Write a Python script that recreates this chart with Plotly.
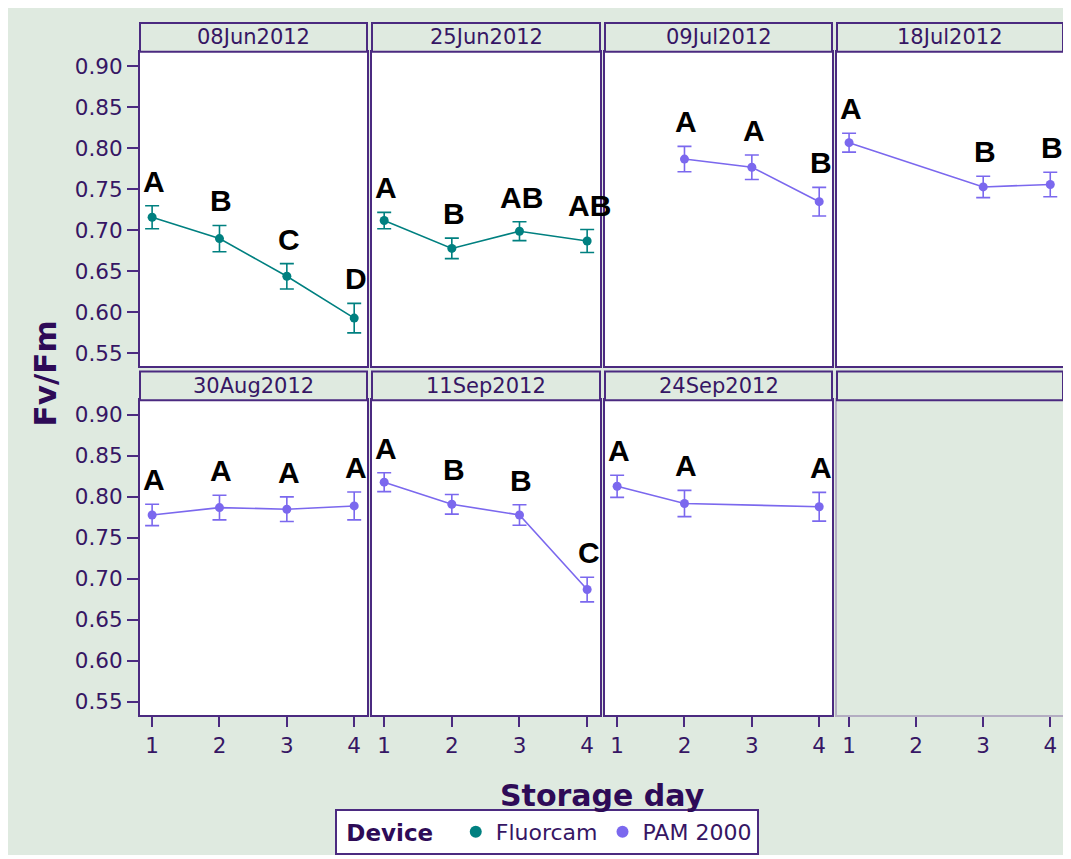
import plotly.graph_objects as go

# ---------------- data ----------------
dates = ["08Jun2012", "25Jun2012", "09Jul2012", "18Jul2012",
         "30Aug2012", "11Sep2012", "24Sep2012"]
devices = ["Fluorcam", "Fluorcam", "PAM 2000", "PAM 2000",
           "PAM 2000", "PAM 2000", "PAM 2000"]
days = [[1, 2, 3, 4], [1, 2, 3, 4], [2, 3, 4], [1, 3, 4],
        [1, 2, 3, 4], [1, 2, 3, 4], [1, 2, 4]]
fvfm = [[0.716, 0.690, 0.644, 0.593],
        [0.712, 0.678, 0.699, 0.687],
        [0.787, 0.777, 0.735],
        [0.807, 0.753, 0.756],
        [0.778, 0.787, 0.785, 0.789],
        [0.818, 0.791, 0.778, 0.687],
        [0.813, 0.792, 0.788]]
err = [[0.014, 0.016, 0.0155, 0.018],
       [0.010, 0.0125, 0.0115, 0.014],
       [0.0155, 0.015, 0.0175],
       [0.0115, 0.013, 0.015],
       [0.013, 0.015, 0.015, 0.017],
       [0.0115, 0.012, 0.0125, 0.015],
       [0.0135, 0.016, 0.0175]]
letters = [["A", "B", "C", "D"],
           ["A", "B", "AB", "AB"],
           ["A", "A", "B"],
           ["A", "B", "B"],
           ["A", "A", "A", "A"],
           ["A", "B", "B", "C"],
           ["A", "A", "A"]]
x_ticks = [1, 2, 3, 4]
y_ticks = [0.55, 0.60, 0.65, 0.70, 0.75, 0.80, 0.85, 0.90]
device_names = ["Fluorcam", "PAM 2000"]

# ---------------- style ----------------
# the page body has an 8px margin; the figure sits at (8, 8)
OX, OY = 8, 8
W, H = 1057, 847
BG = "#dfeae0"
AXC = "#4b2a80"
TXT = "#361664"
TITLE = "#2e0b57"
COLORS = {"Fluorcam": "#008080", "PAM 2000": "#7b68ee"}
FONT = "DejaVu Sans"
NB = "\u00a0"


def px(x):
    return (x - OX) / W


def py(y):
    return 1 - (y - OY) / H


col_x = [(140, 367), (372, 600), (605, 832), (837, 1063)]
row_y = [(52, 369), (403, 720)]
strip_h = 29

fig = go.Figure()

# data traces
for i, d in enumerate(dates):
    n = i + 1
    ax = "" if n == 1 else str(n)
    c = COLORS[devices[i]]
    fig.add_trace(go.Scatter(
        x=days[i], y=fvfm[i], mode="lines+markers",
        line=dict(color=c, width=1.6),
        marker=dict(color=c, size=9),
        error_y=dict(type="data", array=err[i], color=c, thickness=1.6, width=7),
        showlegend=False, xaxis=f"x{ax}", yaxis=f"y{ax}", hoverinfo="skip"))

# placeholder so the empty 8th panel gets its axes
fig.add_trace(go.Scatter(x=[None], y=[None], mode="markers", showlegend=False,
                         xaxis="x8", yaxis="y8", hoverinfo="skip"))

# legend traces (markers only)
for name in device_names:
    fig.add_trace(go.Scatter(x=[None], y=[None], mode="markers", name=name,
                             marker=dict(color=COLORS[name], size=12),
                             xaxis="x", yaxis="y", showlegend=True))

layout = dict(
    width=W, height=H,
    margin=dict(l=0, r=0, t=0, b=0),
    paper_bgcolor=BG, plot_bgcolor="white",
    font=dict(family=FONT, color=TXT, size=21),
    legend=dict(
        orientation="h", x=px(335), xanchor="left", y=py(815), yanchor="top",
        bgcolor="white", bordercolor=AXC, borderwidth=2,
        font=dict(family=FONT, size=22, color=TXT),
        title=dict(text=NB + "<b>Device</b>" + NB * 2,
                   font=dict(family=FONT, size=23, color=TITLE)),
        itemwidth=30, tracegroupgap=0,
    ),
)

shapes = []
annotations = []

for k in range(8):
    n = k + 1
    r, c = divmod(k, 4)
    x0, x1 = col_x[c]
    y0, y1 = row_y[r]
    empty = k == 7
    lc = "#b3adc2" if empty else AXC
    xa = dict(domain=[px(x0), px(x1)], range=[0.82, 4.19],
              showgrid=False, zeroline=False, showline=True, mirror=True,
              linecolor=lc, linewidth=2, tickvals=x_ticks,
              anchor=f"y{n}" if n > 1 else "y", fixedrange=True)
    if r == 1:
        xa.update(ticks="outside", ticklen=10, tickwidth=2, tickcolor=AXC,
                  showticklabels=True, tickfont=dict(size=21.5, color=TXT))
    else:
        xa.update(ticks="", showticklabels=False)
    ya = dict(domain=[py(y1), py(y0)], range=[0.534, 0.918],
              showgrid=False, zeroline=False, showline=True, mirror=True,
              linecolor=lc, linewidth=2, tickvals=y_ticks, tickformat=".2f",
              anchor=f"x{n}" if n > 1 else "x", fixedrange=True)
    if c == 0:
        ya.update(ticks="outside", ticklen=11, tickwidth=2, tickcolor=AXC,
                  showticklabels=True, tickfont=dict(size=21.5, color=TXT))
    else:
        ya.update(ticks="", showticklabels=False)
    layout["xaxis" if n == 1 else f"xaxis{n}"] = xa
    layout["yaxis" if n == 1 else f"yaxis{n}"] = ya

    # strip header
    shapes.append(dict(type="rect", xref="paper", yref="paper",
                       x0=px(x0), x1=px(x1), y0=py(y0), y1=py(y0 - strip_h),
                       fillcolor=BG, line=dict(color=AXC, width=2), layer="above"))
    if k < len(dates):
        annotations.append(dict(text=dates[k], xref="paper", yref="paper",
                                x=px((x0 + x1) / 2), y=py(y0 - strip_h / 2),
                                xanchor="center", yanchor="middle", showarrow=False,
                                font=dict(family=FONT, size=21, color=TXT)))
    if empty:
        shapes.append(dict(type="rect", xref="x8 domain", yref="y8 domain",
                           x0=0, x1=1, y0=0, y1=1, fillcolor=BG,
                           line=dict(width=0), layer="below"))

# significance letters
for i in range(len(dates)):
    n = i + 1
    ax = "" if n == 1 else str(n)
    for dx, m, e, lab in zip(days[i], fvfm[i], err[i], letters[i]):
        annotations.append(dict(text=f"<b>{lab}</b>", xref=f"x{ax}", yref=f"y{ax}",
                                x=dx, y=m + e, xanchor="center", yanchor="bottom",
                                xshift=2, yshift=6, showarrow=False,
                                font=dict(family="Liberation Sans", size=30, color="black")))

# axis titles
annotations.append(dict(text="<b>Fv/Fm</b>", xref="paper", yref="paper",
                        x=px(45), y=py(376), textangle=-90, showarrow=False,
                        xanchor="center", yanchor="middle",
                        font=dict(family=FONT, size=31, color=TITLE)))
annotations.append(dict(text="<b>Storage day</b>", xref="paper", yref="paper",
                        x=px(602), y=py(801), showarrow=False,
                        xanchor="center", yanchor="middle",
                        font=dict(family=FONT, size=30, color=TITLE)))

layout["shapes"] = shapes
layout["annotations"] = annotations
fig.update_layout(**layout)
fig.write_html("out.html", config={"displayModeBar": False})
